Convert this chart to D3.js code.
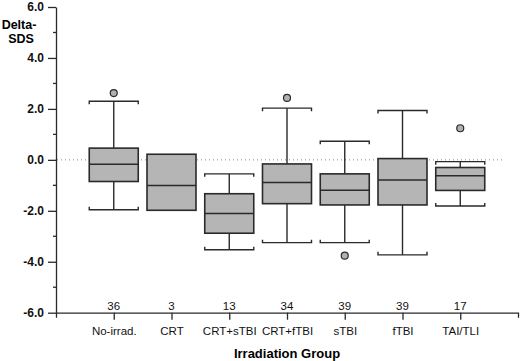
<!DOCTYPE html>
<html>
<head>
<meta charset="utf-8">
<script src="https://cdn.jsdelivr.net/npm/d3@7"></script>
<style>
  body { margin: 0; background: #fff; }
  text { font-family: "Liberation Sans", Arial, sans-serif; }
</style>
</head>
<body>
<div id="chart"></div>
<script>
// data
const groups = ["No-irrad.", "CRT", "CRT+sTBI", "CRT+fTBI", "sTBI", "fTBI", "TAI/TLI"];
const counts = [36, 3, 13, 34, 39, 39, 17];
const whiskerHigh = [2.3, null, -0.55, 2.03, 0.73, 1.94, -0.07];
const boxHigh = [0.46, 0.22, -1.33, -0.16, -0.55, 0.05, -0.30];
const medians = [-0.17, -1.01, -2.11, -0.89, -1.19, -0.79, -0.62];
const boxLow = [-0.85, -1.98, -2.88, -1.72, -1.77, -1.77, -1.20];
const whiskerLow = [-1.96, null, -3.53, -3.25, -3.25, -3.73, -1.81];
const outliers = [[2.62], [], [], [2.43], [-3.76], [], [1.24]];
const yTicks = [-6, -4, -2, 0, 2, 4, 6];
const yMinor = [-5, -3, -1, 1, 3, 5];

let width = 520, height = 361;
let svg = d3.select("#chart").append("svg")
    .attr("width", width)
    .attr("height", height);

let x = d3.scalePoint()
    .domain(groups)
    .range([56, 518])
    .padding(1);

let y = d3.scaleLinear()
    .domain([-6, 6])
    .range([312.7, 7]);

let boxW = 49;
let stroke = "#2a2a2a";

//zero reference line
svg.append("line")
    .attr("x1", 57).attr("x2", 505)
    .attr("y1", y(0)).attr("y2", y(0))
    .attr("stroke", "#888")
    .attr("stroke-width", 1)
    .attr("stroke-dasharray", "1,3");

//y axis
let yAxis = svg.append("g")
    .attr("transform", "translate(56,0)")
    .call(d3.axisLeft(y).tickValues(yTicks).tickFormat("").tickSize(8).tickSizeOuter(0));
yAxis.select(".domain").attr("stroke", stroke).attr("stroke-width", 1.3);
yAxis.selectAll(".tick line").attr("stroke", stroke).attr("stroke-width", 1.3);

//y tick labels
svg.append("g")
    .selectAll("text")
    .data(yTicks)
    .join("text")
    .attr("x", 44)
    .attr("y", d => y(d))
    .attr("dy", "0.36em")
    .attr("text-anchor", "end")
    .attr("font-size", "12px")
    .attr("font-weight", "bold")
    .attr("fill", "#111")
    .text(d => d.toFixed(1));

//minor ticks
svg.append("g")
    .selectAll("line")
    .data(yMinor)
    .join("line")
    .attr("x1", 53).attr("x2", 56)
    .attr("y1", d => y(d)).attr("y2", d => y(d))
    .attr("stroke", stroke).attr("stroke-width", 1.3);

//x axis
let xAxis = svg.append("g")
    .attr("transform", `translate(0,${y(-6)})`)
    .call(d3.axisBottom(x).tickSize(7).tickSizeOuter(5));
xAxis.select(".domain").attr("stroke", stroke).attr("stroke-width", 1.3);
xAxis.selectAll(".tick line").attr("stroke", stroke).attr("stroke-width", 1.3);
xAxis.selectAll(".tick text")
    .attr("y", 14)
    .attr("font-size", "11.5px")
    .attr("fill", "#111");

//counts above the axis
svg.append("g")
    .selectAll("text")
    .data(groups)
    .join("text")
    .attr("x", d => x(d))
    .attr("y", y(-6) - 3)
    .attr("text-anchor", "middle")
    .attr("font-size", "11.5px")
    .attr("fill", "#111")
    .text((d, i) => counts[i]);

//axis labels
svg.append("text")
    .attr("x", 19).attr("y", 29)
    .attr("text-anchor", "middle")
    .attr("font-size", "12.5px")
    .attr("font-weight", "bold")
    .text("Delta-");
svg.append("text")
    .attr("x", 21).attr("y", 43)
    .attr("text-anchor", "middle")
    .attr("font-size", "12.5px")
    .attr("font-weight", "bold")
    .text("SDS");
svg.append("text")
    .attr("x", 287).attr("y", 358)
    .attr("text-anchor", "middle")
    .attr("font-size", "13px")
    .attr("font-weight", "bold")
    .text("Irradiation Group");

//boxes
let boxes = svg.append("g")
    .selectAll("g")
    .data(groups)
    .join("g");

boxes.each(function (d, i) {
    let g = d3.select(this);
    let cx = x(d);
    if (whiskerHigh[i] !== null) {
        g.append("line")
            .attr("x1", cx).attr("x2", cx)
            .attr("y1", y(whiskerHigh[i])).attr("y2", y(boxHigh[i]))
            .attr("stroke", stroke).attr("stroke-width", 1.4);
        g.append("path")
            .attr("d", `M${cx - boxW / 2},${y(whiskerHigh[i]) + 3}V${y(whiskerHigh[i])}H${cx + boxW / 2}V${y(whiskerHigh[i]) + 3}`)
            .attr("fill", "none").attr("stroke", stroke).attr("stroke-width", 1.4);
    }
    if (whiskerLow[i] !== null) {
        g.append("line")
            .attr("x1", cx).attr("x2", cx)
            .attr("y1", y(boxLow[i])).attr("y2", y(whiskerLow[i]))
            .attr("stroke", stroke).attr("stroke-width", 1.4);
        g.append("path")
            .attr("d", `M${cx - boxW / 2},${y(whiskerLow[i]) - 3}V${y(whiskerLow[i])}H${cx + boxW / 2}V${y(whiskerLow[i]) - 3}`)
            .attr("fill", "none").attr("stroke", stroke).attr("stroke-width", 1.4);
    }
    g.append("rect")
        .attr("x", cx - boxW / 2)
        .attr("y", y(boxHigh[i]))
        .attr("width", boxW)
        .attr("height", y(boxLow[i]) - y(boxHigh[i]))
        .attr("fill", "#b5b5b5")
        .attr("stroke", stroke).attr("stroke-width", 1.6);
    g.append("line")
        .attr("x1", cx - boxW / 2).attr("x2", cx + boxW / 2)
        .attr("y1", y(medians[i])).attr("y2", y(medians[i]))
        .attr("stroke", stroke).attr("stroke-width", 1.5);
    g.selectAll("circle")
        .data(outliers[i])
        .join("circle")
        .attr("cx", cx)
        .attr("cy", v => y(v))
        .attr("r", 3.5)
        .attr("fill", "#b0b0b0")
        .attr("stroke", stroke).attr("stroke-width", 1.2);
});
</script>
</body>
</html>
